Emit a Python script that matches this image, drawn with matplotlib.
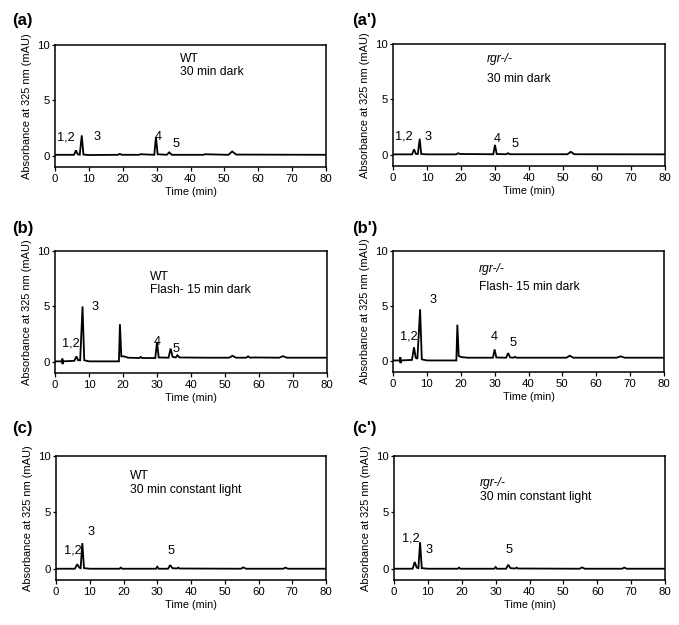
import matplotlib
matplotlib.use("Agg")
import matplotlib.pyplot as plt

plt.rcParams['font.family'] = ['Liberation Sans', 'DejaVu Sans']

# ---- data (time in min, absorbance in mAU) ----
t_a = [0, 5.6, 6.2, 6.7, 7.3, 7.9, 8.4, 10, 18.6, 19.1, 19.8, 24.8, 25.2, 29.3, 29.8, 30.3,
       33.0, 33.7, 34.5, 43.8, 44.3, 51.2, 52.3, 53.5, 80]
y_a = [0.1, 0.1, 0.5, 0.15, 0.1, 1.85, 0.12, 0.08, 0.1, 0.18, 0.1, 0.1, 0.15, 0.1, 1.7, 0.15,
       0.1, 0.32, 0.1, 0.1, 0.15, 0.1, 0.4, 0.12, 0.1]

t_a2 = [0, 5.6, 6.2, 6.7, 7.3, 7.85, 8.3, 10, 18.6, 19.1, 19.8, 29.5, 30.0, 30.5, 33.3, 33.8,
        34.4, 51.3, 52.3, 53.3, 80]
y_a2 = [0.05, 0.05, 0.5, 0.1, 0.08, 1.45, 0.08, 0.05, 0.05, 0.15, 0.08, 0.06, 0.9, 0.08, 0.06,
        0.15, 0.06, 0.06, 0.28, 0.06, 0.05]

t_b = [0, 2.0, 2.2, 2.2, 2.4, 5.7, 6.3, 6.8, 7.4, 8.1, 8.6, 10, 18.8, 19.1, 19.5, 20.3, 21.5,
       24.8, 25.2, 25.6, 29.5, 30.0, 30.5, 33.4, 34.0, 34.6, 35.5, 36.0, 36.6, 45, 51.2, 52.2,
       53.2, 56.2, 56.8, 57.4, 58.5, 66, 67, 68.2, 80]
y_b = [0.05, 0.05, 0.3, -0.2, 0.05, 0.1, 0.5, 0.15, 0.15, 5.0, 0.15, 0.05, 0.05, 3.4, 0.5, 0.5,
       0.38, 0.35, 0.45, 0.35, 0.35, 1.8, 0.4, 0.38, 1.2, 0.45, 0.4, 0.6, 0.4, 0.38, 0.38, 0.55,
       0.38, 0.38, 0.5, 0.38, 0.4, 0.38, 0.52, 0.38, 0.38]

t_b2 = [0, 2.0, 2.2, 2.2, 2.4, 5.6, 6.2, 6.7, 7.2, 8.0, 8.5, 10, 18.7, 19.0, 19.4, 20.3, 22,
        29.5, 30.0, 30.5, 33.4, 34.0, 34.6, 35.6, 36.0, 36.5, 51.2, 52.2, 53.2, 66, 67.2, 68.4, 80]
y_b2 = [0.05, 0.05, 0.35, -0.2, 0.05, 0.1, 1.25, 0.3, 0.2, 4.7, 0.15, 0.05, 0.05, 3.3, 0.45,
        0.35, 0.3, 0.3, 1.05, 0.32, 0.3, 0.72, 0.32, 0.3, 0.38, 0.3, 0.3, 0.48, 0.3, 0.3, 0.42,
        0.3, 0.3]

t_c = [0, 5.6, 6.3, 6.9, 7.3, 7.8, 8.3, 10, 18.8, 19.2, 19.6, 29.6, 30.0, 30.4, 33.2, 33.8,
       34.5, 35.8, 36.2, 36.6, 54.8, 55.5, 56.3, 67.3, 68, 68.7, 80]
y_c = [0.0, 0.0, 0.4, 0.1, 0.05, 2.27, 0.05, 0.0, 0.0, 0.1, 0.0, 0.0, 0.18, 0.0, 0.0, 0.32,
       0.05, 0.02, 0.1, 0.02, 0.0, 0.12, 0.0, 0.0, 0.1, 0.0, 0.0]

t_c2 = [0, 5.5, 6.1, 6.7, 7.2, 7.7, 8.2, 10, 18.8, 19.2, 19.6, 29.6, 30.0, 30.4, 33.1, 33.7,
        34.4, 35.8, 36.2, 36.6, 54.8, 55.5, 56.3, 67.3, 68, 68.7, 80]
y_c2 = [0.0, 0.0, 0.6, 0.1, 0.05, 2.35, 0.05, 0.0, 0.0, 0.1, 0.0, 0.0, 0.15, 0.0, 0.0, 0.35,
        0.05, 0.02, 0.1, 0.02, 0.0, 0.12, 0.0, 0.0, 0.1, 0.0, 0.0]

x_ticks = [0, 10, 20, 30, 40, 50, 60, 70, 80]
y_ticks = [0, 5, 10]

panel_labels = ["(a)", "(a')", "(b)", "(b')", "(c)", "(c')"]

# condition texts: (genotype, condition, x, y_genotype, y_condition, italic)
conditions = [
    ("WT", "30 min dark", 36.9, 8.5, 7.3, False),
    ("rgr-/-", "30 min dark", 27.6, 8.35, 6.6, True),
    ("WT", "Flash- 15 min dark", 27.8, 7.36, 6.2, False),
    ("rgr-/-", "Flash- 15 min dark", 25.4, 8.1, 6.5, True),
    ("WT", "30 min constant light", 21.9, 8.0, 6.7, False),
    ("rgr-/-", "30 min constant light", 25.4, 7.3, 6.1, True),
]

# peak labels: (text, x, y)
peak_labels = [
    [("1,2", 0.5, 1.4), ("3", 11.3, 1.4), ("4", 29.5, 1.4), ("5", 34.7, 0.83)],
    [("1,2", 0.6, 1.35), ("3", 9.4, 1.35), ("4", 29.5, 1.2), ("5", 34.9, 0.74)],
    [("1,2", 2.0, 1.35), ("3", 10.8, 4.65), ("4", 29.1, 1.5), ("5", 34.5, 0.9)],
    [("1,2", 2.05, 1.95), ("3", 10.7, 5.3), ("4", 29.0, 1.95), ("5", 34.4, 1.35)],
    [("1,2", 2.5, 1.33), ("3", 9.4, 2.95), ("5", 33.1, 1.33)],
    [("1,2", 2.3, 2.4), ("3", 9.4, 1.37), ("5", 33.0, 1.37)],
]

traces = [(t_a, y_a), (t_a2, y_a2), (t_b, y_b), (t_b2, y_b2), (t_c, y_c), (t_c2, y_c2)]

W, H = 679, 625
fig = plt.figure(figsize=(W / 100, H / 100), dpi=100)

# axes rectangles in pixels: (left, top, right, bottom)
rects_px = [
    (55, 45, 326, 167), (393, 44, 665, 166),
    (55, 251, 327, 373), (393, 251, 664, 372),
    (56, 456, 326, 580), (394, 456, 665, 580),
]
label_px = [(12, 21), (352, 21), (12, 228), (352, 228), (12, 428), (352, 428)]

for i in range(6):
    l, t, r, b = rects_px[i]
    ax = fig.add_axes([l / W, 1 - b / H, (r - l) / W, (b - t) / H])
    tt, yy = traces[i]
    ax.plot(tt, yy, color='black', lw=1.3, solid_joinstyle='miter')
    ax.set_xlim(0, 80)
    ax.set_ylim(-1, 10)
    ax.set_xticks(x_ticks)
    ax.set_yticks(y_ticks)
    ax.tick_params(axis='x', direction='out', length=3, width=0.9, labelsize=8.2, pad=2)
    ax.tick_params(axis='y', direction='out', length=2, width=0.9, labelsize=8.2, pad=1.5)
    for s in ax.spines.values():
        s.set_linewidth(1.1)
    ax.set_xlabel("Time (min)", fontsize=7.8, labelpad=2)
    ax.set_ylabel("Absorbance at 325 nm (mAU)", fontsize=7.9, labelpad=4)
    g, c, gx, gy, cy, it = conditions[i]
    ax.text(gx, gy, g, fontsize=8.7, style='italic' if it else 'normal', va='baseline')
    ax.text(gx, cy, c, fontsize=8.7, va='baseline')
    for txt, px, py in peak_labels[i]:
        ax.text(px, py, txt, fontsize=9.2, va='baseline')
    lx, ly = label_px[i]
    fig.text(lx / W, 1 - ly / H, panel_labels[i], fontsize=12, fontweight='bold',
             va='center', ha='left')

fig.savefig("out.png", dpi=100)
